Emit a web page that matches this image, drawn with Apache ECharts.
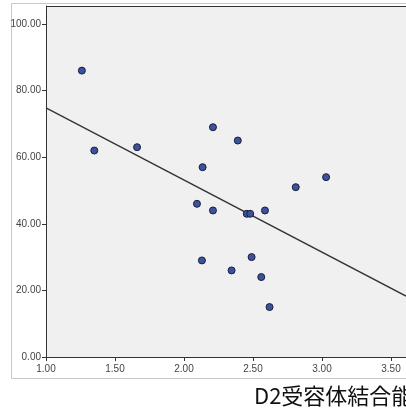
<!DOCTYPE html>
<html>
<head>
<meta charset="utf-8">
<script src="https://cdn.jsdelivr.net/npm/echarts@6/dist/echarts.min.js"></script>
<style>html,body{margin:0;padding:0;background:#fff}#c{width:406px;height:408px}</style>
</head>
<body>
<div id="c"></div>
<script>
// Data
var xValues = [1.26, 1.35, 1.66, 2.21, 2.39, 2.135, 2.094, 2.21, 2.455, 2.48, 2.587, 2.81, 3.03, 2.13, 2.345, 2.49, 2.56, 2.62];
var yValues = [86, 62, 63, 69, 65, 57, 46, 44, 43, 43, 44, 51, 54, 29, 26, 30, 24, 15];
var fitLineX = [1.0, 3.609];
var fitLineY = [74.8, 18.3];
var xTicks = [1.0, 1.5, 2.0, 2.5, 3.0, 3.5];
var yTicks = [0, 20, 40, 60, 80, 100];
var xTitle = 'D2受容体結合能';

var points = xValues.map(function (x, i) { return [x, yValues[i]]; });
var linePts = fitLineX.map(function (x, i) { return [x, fitLineY[i]]; });

var chart = echarts.init(document.getElementById('c'));
var labelFont = 'Arial, "Liberation Sans", sans-serif';
chart.setOption({
  animation: false,
  backgroundColor: '#fff',
  grid: {
    left: 46, top: 6, right: 0, bottom: 51,
    show: true, backgroundColor: '#f0f0f0', borderWidth: 0
  },
  xAxis: {
    type: 'value', min: 1.0, max: 3.609,
    axisLine: { show: true, onZero: false, lineStyle: { color: '#333', width: 1 } },
    axisTick: { show: true, length: 4, customValues: xTicks, lineStyle: { color: '#333' } },
    axisLabel: { customValues: xTicks, margin: 7, fontSize: 10, color: '#444', fontFamily: labelFont,
      formatter: function (v) { return v.toFixed(2); } },
    splitLine: { show: false }
  },
  yAxis: {
    type: 'value', min: 0, max: 105.4,
    axisLine: { show: true, onZero: false, lineStyle: { color: '#333', width: 1 } },
    axisTick: { show: true, length: 4, customValues: yTicks, lineStyle: { color: '#333' } },
    axisLabel: { customValues: yTicks, margin: 5, fontSize: 10, color: '#444', fontFamily: labelFont,
      formatter: function (v) { return v.toFixed(2); } },
    splitLine: { show: false }
  },
  graphic: [
    { type: 'rect', shape: { x: 11.5, y: 3.5, width: 430, height: 375 },
      style: { fill: null, stroke: '#c8c8c8', lineWidth: 1 }, z: -1 },
    { type: 'line', shape: { x1: 46, y1: 6.5, x2: 420, y2: 6.5 },
      style: { stroke: '#333', lineWidth: 1 }, z: 10 },
    { type: 'text', x: 254, y: 396,
      style: { text: xTitle, fontSize: 22, fill: '#111', fontFamily: '"Noto Sans CJK JP", sans-serif',
        verticalAlign: 'middle', align: 'left' } }
  ],
  series: [
    { type: 'line', data: linePts, symbol: 'none', lineStyle: { color: '#333', width: 1.3 }, z: 2 },
    { type: 'scatter', data: points, symbolSize: 7, z: 3,
      itemStyle: { color: '#3a539b', borderColor: '#1c1c3c', borderWidth: 1, opacity: 1 } }
  ]
});
</script>
</body>
</html>
